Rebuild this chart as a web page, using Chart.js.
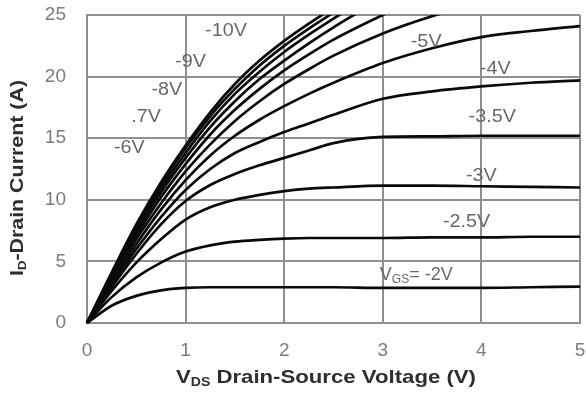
<!DOCTYPE html>
<html><head><meta charset="utf-8">
<script src="https://cdn.jsdelivr.net/npm/chart.js@4"></script>
<style>html,body{margin:0;padding:0;background:#fff}#wrap{width:586px;height:393px}</style>
</head><body><div id="wrap"><canvas id="c" width="586" height="393"></canvas></div>
<script>
// Drain-source voltage sample points (V)
const vds = [0, 0.25, 0.5, 0.75, 1, 1.25, 1.5, 1.75, 2, 2.25, 2.5, 3, 3.5, 4, 4.5, 5];
// Drain current (A) for each gate voltage curve
const idVgs2   = [0, 1.4, 2.2, 2.65, 2.85, 2.9, 2.9, 2.9, 2.9, 2.9, 2.9, 2.85, 2.85, 2.85, 2.9, 2.95];
const idVgs2_5 = [0, 2.1, 3.7, 4.9, 5.8, 6.3, 6.6, 6.75, 6.85, 6.9, 6.9, 6.9, 6.95, 6.95, 7.0, 7.0];
const idVgs3   = [0, 2.6, 4.9, 6.8, 8.4, 9.4, 10.0, 10.4, 10.7, 10.9, 11.0, 11.15, 11.15, 11.1, 11.05, 11.0];
const idVgs3_5 = [0, 2.9, 5.6, 8.0, 9.9, 11.2, 12.1, 12.8, 13.4, 14.0, 14.6, 15.1, 15.15, 15.2, 15.2, 15.2];
const idVgs4   = [0, 3.1, 6.0, 8.6, 10.8, 12.5, 13.8, 14.7, 15.5, 16.2, 16.9, 18.2, 18.8, 19.2, 19.5, 19.7];
const idVgs5   = [0, 3.3, 6.4, 9.2, 11.6, 13.6, 15.2, 16.5, 17.6, 18.6, 19.5, 21.1, 22.3, 23.2, 23.7, 24.1];
const idVgs6   = [0, 3.5, 6.8, 9.7, 12.3, 14.5, 16.4, 18.0, 19.4, 20.6, 21.7, 23.5, 24.9, 26.0];
const idVgs7   = [0, 3.7, 7.1, 10.2, 12.9, 15.3, 17.3, 19.0, 20.5, 21.8, 23.0, 25.0, 26.8];
const idVgs8   = [0, 3.8, 7.4, 10.6, 13.4, 15.9, 18.0, 19.8, 21.3, 22.7, 24.0, 26.4];
const idVgs9   = [0, 3.9, 7.6, 10.9, 13.8, 16.4, 18.6, 20.4, 22.0, 23.4, 24.7, 27.2];
const idVgs10  = [0, 4.0, 7.8, 11.2, 14.2, 16.8, 19.0, 20.9, 22.5, 23.9, 25.2];
const idTop    = [0, 4.1, 8.0, 11.4, 14.4, 17.1, 19.4, 21.3, 22.9, 24.3, 25.6];
const curves = [idVgs2, idVgs2_5, idVgs3, idVgs3_5, idVgs4, idVgs5, idVgs6, idVgs7, idVgs8, idVgs9, idVgs10, idTop];
const curveNames = ['-2V','-2.5V','-3V','-3.5V','-4V','-5V','-6V','-7V','-8V','-9V','-10V','top'];
// Curve labels: text, VDS position, ID position
const labelTexts = ['-10V','-9V','-8V','.7V','-6V','-5V','-4V','-3.5V','-3V','-2.5V'];
const labelX     = [1.41, 1.05, 0.81, 0.60, 0.43, 3.44, 4.14, 4.11, 4.00, 3.85];
const labelY     = [23.7, 21.2, 18.9, 16.7, 14.2, 22.8, 20.6, 16.7, 11.9, 8.2];
const xTicks = [0,1,2,3,4,5];
const yTicks = [0,5,10,15,20,25];

const FONT = "'Liberation Sans', Arial, sans-serif";
const datasets = curves.map((arr, i) => ({
  label: curveNames[i],
  data: arr.map((v, j) => ({x: vds[j], y: v})),
  borderColor: '#0a0a0a', borderWidth: 2.7, pointRadius: 0,
  cubicInterpolationMode: 'monotone', fill: false,
  clip: {left: 3, top: 0, right: 3, bottom: 3}
}));

function drawStretched(ctx, parts, cx, cy, targetW) {
  let w = 0; parts.forEach(p => { ctx.font = p[1]; w += ctx.measureText(p[0]).width; });
  const sx = targetW / w;
  ctx.save();
  ctx.translate(cx, cy); ctx.scale(sx, 1);
  let px = -w / 2;
  parts.forEach(p => { ctx.font = p[1]; ctx.fillText(p[0], px, p[2]); px += ctx.measureText(p[0]).width; });
  ctx.restore();
}

const annot = {
  id: 'annot',
  afterDatasetsDraw(chart) {
    const {ctx, scales: {x, y}} = chart;
    ctx.save();
    ctx.fillStyle = '#686868';
    ctx.font = '18px ' + FONT;
    ctx.textAlign = 'center'; ctx.textBaseline = 'middle';
    labelTexts.forEach((t, i) => {
      ctx.save();
      ctx.translate(x.getPixelForValue(labelX[i]), y.getPixelForValue(labelY[i]));
      ctx.scale(1.1, 1);
      ctx.fillText(t, 0, 0);
      ctx.restore();
    });
    // VGS label with subscript
    ctx.textAlign = 'left';
    let px = x.getPixelForValue(2.97), py = y.getPixelForValue(3.9);
    ctx.fillText('V', px, py); px += ctx.measureText('V').width;
    ctx.font = '12px ' + FONT; ctx.fillText('GS', px, py + 5); px += ctx.measureText('GS').width;
    ctx.font = '18px ' + FONT; ctx.fillText('= -2V', px, py);
    ctx.restore();
  },
  afterDraw(chart) {
    const {ctx} = chart;
    ctx.save();
    ctx.fillStyle = '#2e2e2e';
    ctx.textBaseline = 'middle'; ctx.textAlign = 'left';
    // X title
    const big = 'bold 19px ' + FONT, small = 'bold 12px ' + FONT;
    drawStretched(ctx, [['V', big, 0], ['DS', small, 5], [' Drain-Source Voltage (V)', big, 0]], 326, 378, 300);
    // Y title
    ctx.save();
    ctx.translate(18, 178); ctx.rotate(-Math.PI / 2);
    const bigY = 'bold 18px ' + FONT, smallY = 'bold 11px ' + FONT;
    drawStretched(ctx, [['I', bigY, 0], ['D', smallY, 5], ['-Drain Current (A)', bigY, 0]], 0, 0, 196);
    ctx.restore();
    ctx.restore();
  }
};

new Chart(document.getElementById('c'), {
  type: 'line',
  data: {datasets},
  options: {
    responsive: false, animation: false,
    layout: {padding: {top: 15, right: 6, left: 0, bottom: 0}},
    plugins: {legend: {display: false}, tooltip: {enabled: false}},
    scales: {
      x: {
        type: 'linear', min: 0, max: 5,
        afterBuildTicks(s) { s.ticks = xTicks.map(v => ({value: v})); },
        ticks: {color: '#7c7c7c', font: {family: FONT, size: 19}, padding: 16, maxRotation: 0},
        grid: {color: '#8f8f8f', lineWidth: 2, drawTicks: false},
        border: {color: '#8f8f8f', width: 2},
        afterFit(s) { s.height = 70; s.paddingLeft = 0; s.paddingRight = 0; }
      },
      y: {
        type: 'linear', min: 0, max: 25,
        afterBuildTicks(s) { s.ticks = yTicks.map(v => ({value: v})); },
        ticks: {color: '#7c7c7c', font: {family: FONT, size: 19}, padding: 21},
        grid: {color: '#8f8f8f', lineWidth: 2, drawTicks: false},
        border: {color: '#8f8f8f', width: 2},
        afterFit(s) { s.width = 87; s.paddingTop = 0; s.paddingBottom = 0; }
      }
    }
  },
  plugins: [annot]
});
</script>
</body></html>
